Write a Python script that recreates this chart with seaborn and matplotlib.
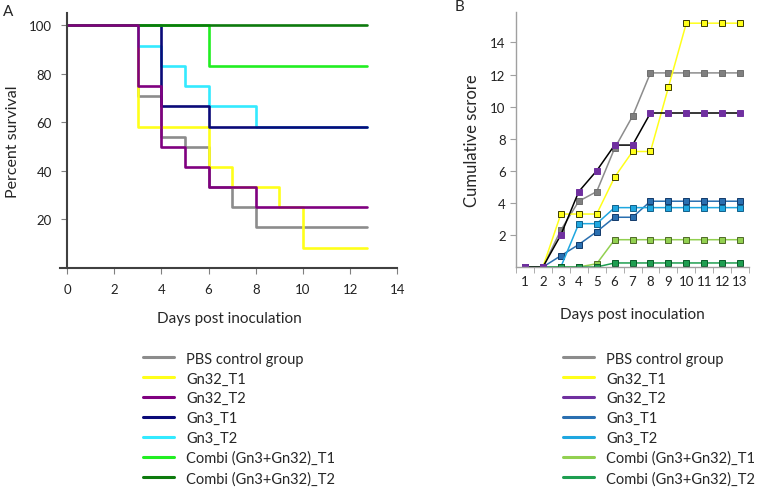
import numpy as np
import pandas as pd
import matplotlib
matplotlib.use("Agg")
import matplotlib.pyplot as plt
from matplotlib.lines import Line2D
import seaborn as sns

sns.set_style("ticks")
plt.rcParams["font.family"] = ["Lato", "DejaVu Sans"]

# %% data
groups = ["PBS control group", "Gn32_T1", "Gn32_T2", "Gn3_T1", "Gn3_T2",
          "Combi (Gn3+Gn32)_T1", "Combi (Gn3+Gn32)_T2"]

# panel A: Kaplan-Meier steps (day, percent survival)
surv_days = {
    "PBS control group": [0, 3, 4, 5, 6, 7, 8, 12.7],
    "Gn32_T1": [0, 3, 6, 7, 9, 10, 12.7],
    "Gn32_T2": [0, 3, 4, 5, 6, 8, 12.7],
    "Gn3_T1": [0, 4, 6, 12.7],
    "Gn3_T2": [0, 3, 4, 5, 6, 8, 12.7],
    "Combi (Gn3+Gn32)_T1": [0, 6, 12.7],
    "Combi (Gn3+Gn32)_T2": [0, 12.7],
}
surv_pct = {
    "PBS control group": [100, 70.8, 54.2, 50, 33.3, 25, 16.7, 16.7],
    "Gn32_T1": [100, 58.3, 41.7, 33.3, 25, 8.3, 8.3],
    "Gn32_T2": [100, 75, 50, 41.7, 33.3, 25, 25],
    "Gn3_T1": [100, 66.7, 58.3, 58.3],
    "Gn3_T2": [100, 91.7, 83.3, 75, 66.7, 58.3, 58.3],
    "Combi (Gn3+Gn32)_T1": [100, 83.3, 83.3],
    "Combi (Gn3+Gn32)_T2": [100, 100],
}

# panel B: cumulative score per day
days = list(range(1, 14))
score = {
    "PBS control group": [0, 0, 2.3, 4.1, 4.7, 7.4, 9.4, 12.1, 12.1, 12.1, 12.1, 12.1, 12.1],
    "Gn32_T1": [0, 0, 3.3, 3.3, 3.3, 5.6, 7.2, 7.2, 11.2, 15.2, 15.2, 15.2, 15.2],
    "Gn32_T2": [0, 0, 2.0, 4.7, 6.0, 7.6, 7.6, 9.6, 9.6, 9.6, 9.6, 9.6, 9.6],
    "Gn3_T1": [0, 0, 0.7, 1.4, 2.2, 3.1, 3.1, 4.1, 4.1, 4.1, 4.1, 4.1, 4.1],
    "Gn3_T2": [0, 0, 0, 2.7, 2.7, 3.7, 3.7, 3.7, 3.7, 3.7, 3.7, 3.7, 3.7],
    "Combi (Gn3+Gn32)_T1": [0, 0, 0, 0, 0.2, 1.7, 1.7, 1.7, 1.7, 1.7, 1.7, 1.7, 1.7],
    "Combi (Gn3+Gn32)_T2": [0, 0, 0, 0, 0, 0.25, 0.25, 0.25, 0.25, 0.25, 0.25, 0.25, 0.25],
}

# %% colours
colors_a = {
    "PBS control group": "#8c8c8c", "Gn32_T1": "#ffff1a", "Gn32_T2": "#800080",
    "Gn3_T1": "#0a0a78", "Gn3_T2": "#33eaff",
    "Combi (Gn3+Gn32)_T1": "#22ee22", "Combi (Gn3+Gn32)_T2": "#0d7a0d",
}
# (line, marker face, marker edge)
colors_b = {
    "PBS control group": ("#8c8c8c", "#7f7f7f", "#6f6f6f"),
    "Gn32_T1": ("#ffff1a", "#ffff1a", "#3a3a00"),
    "Gn32_T2": ("#000000", "#7030a0", "#7030a0"),
    "Gn3_T1": ("#2a6fb0", "#2a6fb0", "#123a6a"),
    "Gn3_T2": ("#1fa7e0", "#1fa7e0", "#11608a"),
    "Combi (Gn3+Gn32)_T1": ("#92d050", "#92d050", "#4f6a28"),
    "Combi (Gn3+Gn32)_T2": ("#1e9e50", "#1e9e50", "#0a5a2a"),
}
legend_b = {
    "PBS control group": "#8c8c8c", "Gn32_T1": "#ffff1a", "Gn32_T2": "#7030a0",
    "Gn3_T1": "#2a6fb0", "Gn3_T2": "#1fa7e0",
    "Combi (Gn3+Gn32)_T1": "#92d050", "Combi (Gn3+Gn32)_T2": "#1e9e50",
}

draw_order_a = ["PBS control group", "Gn32_T1", "Gn3_T2", "Gn3_T1",
                "Combi (Gn3+Gn32)_T1", "Combi (Gn3+Gn32)_T2", "Gn32_T2"]
draw_order_b = ["PBS control group", "Gn32_T1", "Gn3_T1", "Gn3_T2",
                "Combi (Gn3+Gn32)_T1", "Combi (Gn3+Gn32)_T2", "Gn32_T2"]

df_a = pd.concat([pd.DataFrame({"Day": surv_days[g], "Survival": surv_pct[g], "Group": g})
                  for g in groups])

fig = plt.figure(figsize=(7.6, 4.89), dpi=100)
ax_a = fig.add_axes([0.0789, 0.450, 0.447, 0.5207])
ax_b = fig.add_axes([0.679, 0.452, 0.3066, 0.5215])

# %% panel A
sns.lineplot(data=df_a, x="Day", y="Survival", hue="Group", hue_order=draw_order_a,
             palette=colors_a, drawstyle="steps-post", linewidth=1.9, legend=False,
             estimator=None, ax=ax_a)
ax_a.set_xlim(-0.3, 14.1)
ax_a.set_ylim(0, 105)
ax_a.set_xticks(range(0, 15, 2))
ax_a.set_yticks([20, 40, 60, 80, 100])
ax_a.spines[["top", "right"]].set_visible(False)
ax_a.spines["left"].set_position(("data", 0))
ax_a.spines["bottom"].set_bounds(-0.3, 14)
for s in ["left", "bottom"]:
    ax_a.spines[s].set_color("#404040")
    ax_a.spines[s].set_linewidth(1.5)
ax_a.tick_params(length=4, width=0.8, color="#808080", labelsize=9.5, labelcolor="#222222", pad=7)
ax_a.set_xlabel("Days post inoculation", fontsize=11, labelpad=11)
ax_a.set_ylabel("Percent survival", fontsize=11.5, labelpad=6)
fig.text(0.004, 0.975, "A", fontsize=11, va="center")

# %% panel B
for g in draw_order_b:
    line_c, face_c, edge_c = colors_b[g]
    sns.lineplot(x=days, y=score[g], color=line_c, marker="s", markersize=4.5,
                 markerfacecolor=face_c, markeredgecolor=edge_c, markeredgewidth=0.7,
                 linewidth=1.1, ax=ax_b)
ax_b.set_xlim(0.5, 13.5)
ax_b.set_ylim(0, 15.9)
ax_b.set_xticks(days)
ax_b.set_xticks(np.arange(0.5, 14, 1), minor=True)
ax_b.set_yticks([2, 4, 6, 8, 10, 12, 14])
ax_b.spines[["top", "right"]].set_visible(False)
for s in ["left", "bottom"]:
    ax_b.spines[s].set_color("#a0a0a0")
    ax_b.spines[s].set_linewidth(1.0)
ax_b.tick_params(axis="x", which="major", length=0, labelsize=9.5, pad=6, labelcolor="#222222")
ax_b.tick_params(axis="x", which="minor", length=4, color="#a0a0a0")
ax_b.tick_params(axis="y", length=4, color="#a0a0a0", labelsize=9.5, labelcolor="#222222")
ax_b.set_xlabel("Days post inoculation", fontsize=11, labelpad=14)
ax_b.set_ylabel("Cumulative scrore", fontsize=12, labelpad=7)
fig.text(0.598, 0.985, "B", fontsize=11, va="center")

# %% legends
handles_a = [Line2D([], [], color=colors_a[g], lw=2.2) for g in groups]
handles_b = [Line2D([], [], color=legend_b[g], lw=2.2) for g in groups]
for handles, x0 in [(handles_a, 0.188), (handles_b, 0.741)]:
    fig.legend(handles, groups, loc="upper left", bbox_to_anchor=(x0, 0.279),
               frameon=False, fontsize=10.5, handlelength=2.1, handletextpad=0.85,
               labelspacing=0.4, borderpad=0, borderaxespad=0)

fig.savefig("out.png", dpi=100)
